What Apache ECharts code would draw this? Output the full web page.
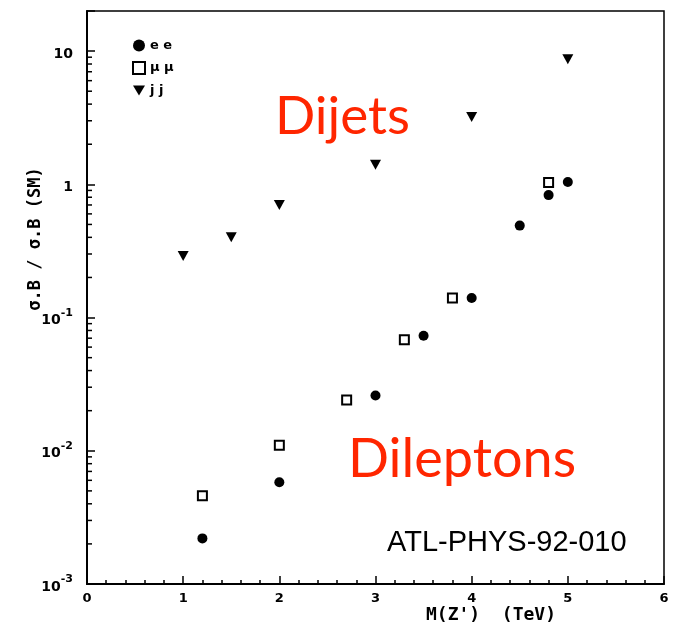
<!DOCTYPE html>
<html><head><meta charset="utf-8">
<script src="https://cdn.jsdelivr.net/npm/echarts@6/dist/echarts.min.js"></script>
<style>html,body{margin:0;padding:0;background:#fff}#c{width:677px;height:630px}</style>
</head><body><div id="c"></div>
<script>
// ---- data ----
const eeX = [1.2, 2, 3, 3.5, 4, 4.5, 4.8, 5];
const eeY = [0.0022, 0.0058, 0.026, 0.073, 0.14, 0.49, 0.83, 1.04];
const mumuX = [1.2, 2, 2.7, 3.3, 3.8, 4.8];
const mumuY = [0.0046, 0.011, 0.024, 0.068, 0.14, 1.03];
const jjX = [1, 1.5, 2, 3, 4, 5];
const jjY = [0.29, 0.40, 0.70, 1.4, 3.2, 8.7];
const seriesNames = ['e e', 'μ μ', 'j j'];
const yDecades = [-3, -2, -1, 0, 1];
const yMinorMult = [2, 3, 4, 5, 6, 7, 8, 9];

// minor tick values on the log axis (2..9 x 10^d)
const yMinor = [];
yDecades.forEach(d => yMinorMult.forEach(m => {
  const v = Number((m * Math.pow(10, d)).toPrecision(3));
  if (v < 20) yMinor.push([0, v]);
}));

const pair = (xs, ys) => xs.map((x, i) => [x, ys[i]]);
const tickFont = 'DejaVu Sans';

const chart = echarts.init(document.getElementById('c'), null, {renderer: 'canvas'});
chart.setOption({
  backgroundColor: '#fff',
  animation: false,
  grid: {left: 87, right: 13, top: 11, bottom: 46, show: true, borderColor: '#000', borderWidth: 1.5, backgroundColor: 'transparent'},
  legend: {
    orient: 'vertical', left: 127, top: 34, itemWidth: 12, itemHeight: 12, itemGap: 9, itemTextGap: 5,
    data: [
      {name: seriesNames[0], icon: 'circle'},
      {name: seriesNames[1], icon: 'rect'},
      {name: seriesNames[2], icon: 'path://M0,0 L12,0 L6,10 Z'}
    ],
    textStyle: {color: '#000', fontSize: 13, fontWeight: 'bold', fontFamily: tickFont}
  },
  xAxis: {
    type: 'value', min: 0, max: 6, interval: 1,
    axisLine: {lineStyle: {color: '#000', width: 2}},
    axisTick: {inside: true, length: 8, lineStyle: {color: '#000', width: 1.5}},
    minorTick: {show: true, splitNumber: 5, length: 4, lineStyle: {color: '#000', width: 1.5}},
    splitLine: {show: false},
    axisLabel: {color: '#000', fontSize: 13, fontWeight: 'bold', fontFamily: tickFont, margin: 8}
  },
  yAxis: {
    type: 'log', logBase: 10, min: 0.001, max: 20,
    axisLine: {lineStyle: {color: '#000', width: 2}},
    axisTick: {inside: true, length: 8, lineStyle: {color: '#000', width: 1.5}},
    splitLine: {show: false},
    axisLabel: {
      color: '#000', margin: 14,
      formatter: v => {
        const l = Math.log10(v), e = Math.round(l);
        if (Math.abs(l - e) > 1e-6) return '';
        if (e === 1) return '{b|10}';
        if (e === 0) return '{b|1}';
        return '{b|10}{s|' + e + '}';
      },
      rich: {
        b: {fontSize: 14, fontWeight: 'bold', fontFamily: tickFont, color: '#000', verticalAlign: 'bottom', lineHeight: 20},
        s: {fontSize: 11, fontWeight: 'bold', fontFamily: tickFont, color: '#000', verticalAlign: 'top', lineHeight: 20}
      }
    }
  },
  series: [
    {name: seriesNames[0], type: 'scatter', data: pair(eeX, eeY), symbol: 'circle', symbolSize: 10,
     itemStyle: {color: '#000', opacity: 1}, z: 5},
    {name: seriesNames[1], type: 'scatter', data: pair(mumuX, mumuY), symbol: 'rect', symbolSize: 9,
     itemStyle: {color: '#fff', borderColor: '#000', borderWidth: 2, opacity: 1}, z: 5},
    {name: seriesNames[2], type: 'scatter', data: pair(jjX, jjY), symbol: 'triangle', symbolRotate: 180, symbolSize: [11, 10],
     itemStyle: {color: '#000', opacity: 1}, z: 5},
    {type: 'custom', silent: true, data: yMinor, z: 6,
     renderItem: (params, api) => {
       const p = api.coord([0, api.value(1)]);
       return {type: 'line', shape: {x1: p[0], y1: p[1], x2: p[0] + 5, y2: p[1]}, style: {stroke: '#000', lineWidth: 1.5}};
     }}
  ],
  graphic: [
    {type: 'text', style: {text: 'σ.B / σ.B (SM)', x: 0, y: 0, textAlign: 'center', verticalAlign: 'middle',
      font: 'bold 17px "DejaVu Sans Mono"', fill: '#000'}, x: 36, y: 239, rotation: Math.PI / 2},
    {type: 'text', style: {text: "M(Z')  (TeV)", x: 491, y: 615, textAlign: 'center', verticalAlign: 'middle',
      font: 'bold 18px "DejaVu Sans Mono"', fill: '#000'}},
    {type: 'text', style: {text: 'Dijets', x: 275, y: 117, textAlign: 'left', verticalAlign: 'middle',
      font: '53px Lato', fill: '#ff2600'}},
    {type: 'text', style: {text: 'Dileptons', x: 348, y: 460, textAlign: 'left', verticalAlign: 'middle',
      font: '54px Lato', fill: '#ff2600'}},
    {type: 'text', style: {text: 'ATL-PHYS-92-010', x: 387, y: 543, textAlign: 'left', verticalAlign: 'middle',
      font: '29px "Liberation Sans"', fill: '#000'}}
  ]
});
</script></body></html>
